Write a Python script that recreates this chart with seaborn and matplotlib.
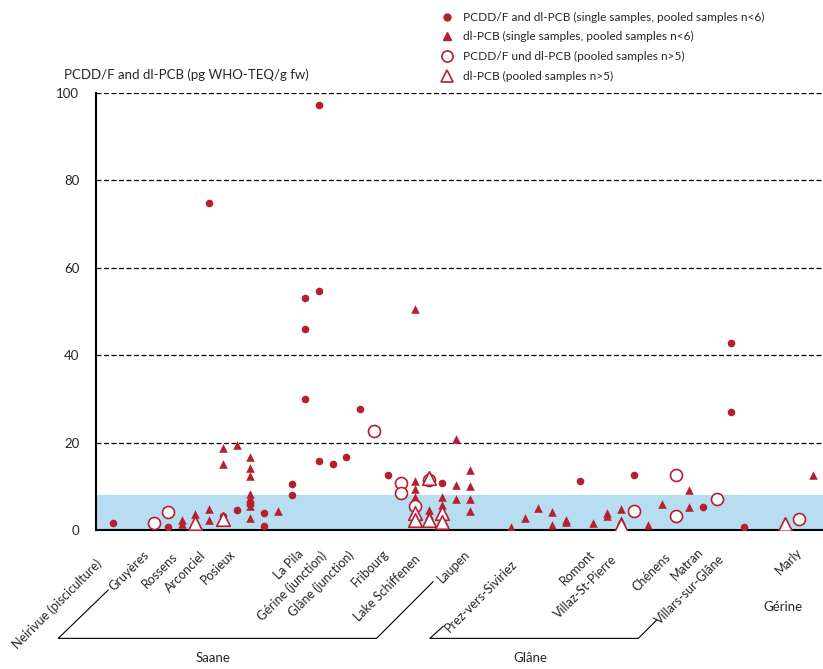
import numpy as np
import pandas as pd
import seaborn as sns
import matplotlib.pyplot as plt
from matplotlib.lines import Line2D
import matplotlib.transforms as mtransforms

# slot positions along the rivers and measured values (pg WHO-TEQ/g fw)
fc_slot = [1, 5, 8, 9, 10, 11, 12, 12, 14, 14, 15, 15, 15, 16, 16, 16, 17, 18, 19, 21, 25, 35, 39, 44, 46, 46, 47]
fc_val = [1.7, 0.8, 74.8, 3.2, 4.6, 6.0, 3.8, 0.9, 10.5, 8.0, 53.2, 46.0, 29.9, 97.3, 54.7, 15.9, 15.0, 16.8,
          27.7, 12.7, 10.7, 11.3, 12.7, 5.3, 42.9, 27.0, 0.8]

ft_slot = [6, 6, 7, 8, 8, 9, 9, 10, 11, 11, 11, 11, 11, 11, 11, 11, 13,
           23, 23, 23, 23, 23, 23, 24, 24, 24, 24, 25, 25, 26, 26, 26, 27, 27, 27, 27,
           30, 31, 32, 33, 33, 34, 34, 36, 37, 37, 38, 38, 40, 41, 43, 43, 52]
ft_val = [2.4, 1.4, 3.6, 4.7, 2.3, 18.7, 15.0, 19.4, 16.6, 14.3, 12.4, 8.3, 7.4, 6.4, 5.5, 2.7, 4.4,
          50.5, 11.1, 9.3, 7.6, 4.6, 1.6, 12.4, 4.6, 3.5, 1.8, 7.6, 5.7, 20.8, 10.3, 7.0, 13.7, 10.1, 7.1, 4.4,
          0.7, 2.8, 5.0, 4.2, 1.1, 2.3, 1.8, 1.7, 4.0, 3.2, 4.7, 2.3, 1.1, 5.9, 9.1, 5.2, 12.5]

oc_slot = [4, 5, 20, 22, 22, 23, 24, 39, 42, 42, 45, 51]
oc_val = [1.5, 4.2, 22.7, 10.8, 8.5, 5.5, 11.5, 4.3, 12.7, 3.2, 7.1, 2.6]

ot_slot = [7, 9, 23, 23, 24, 24, 25, 25, 38, 50]
ot_val = [1.5, 2.5, 3.8, 2.4, 12.0, 2.3, 4.0, 1.9, 1.1, 1.4]

sites = ["Neirivue (pisciculture)", "Gruyères", "Rossens", "Arconciel", "Posieux", "La Pila",
         "Gérine (junction)", "Glâne (junction)", "Fribourg", "Lake Schiffenen", "Laupen",
         "Prez-vers-Siviriez", "Romont", "Villaz-St-Pierre", "Chénens", "Matran",
         "Villars-sur-Glâne", "Marly"]
site_x = [0.04, 3.45, 5.51, 7.62, 9.74, 14.74, 16.44, 18.39, 20.94, 23.22, 26.86,
          30.29, 35.95, 37.58, 41.51, 43.9, 45.43, 51.1]
site_y = [-0.073, -0.053, -0.057, -0.053, -0.050, -0.050, -0.053, -0.053, -0.050, -0.062, -0.050,
          -0.073, -0.050, -0.062, -0.057, -0.046, -0.062, -0.046]

legend_labels = ["PCDD/F and dl-PCB (single samples, pooled samples n<6)",
                 "dl-PCB (single samples, pooled samples n<6)",
                 "PCDD/F und dl-PCB (pooled samples n>5)",
                 "dl-PCB (pooled samples n>5)"]

red = "#b51f2e"
band = "#b8dcf0"

sns.set_style("white")
plt.rcParams['font.family'] = ['Lato', 'DejaVu Sans']
fs = 9

fig = plt.figure(figsize=(8.23, 6.69), dpi=100)
ax = fig.add_axes([96 / 823, 139 / 669, 727 / 823, 437 / 669])

ax.axhspan(0, 8, color=band, zorder=0, lw=0)
for yv in [20, 40, 60, 80, 100]:
    ax.axhline(yv, color="black", ls=(0, (4, 2)), lw=0.9, zorder=1)

fc = pd.DataFrame({"slot": fc_slot, "val": fc_val})
ft = pd.DataFrame({"slot": ft_slot, "val": ft_val})
oc = pd.DataFrame({"slot": oc_slot, "val": oc_val})
ot = pd.DataFrame({"slot": ot_slot, "val": ot_val})

sns.scatterplot(data=fc, x="slot", y="val", ax=ax, marker="o", s=30, color=red, linewidth=0, zorder=3)
sns.scatterplot(data=ft, x="slot", y="val", ax=ax, marker="^", s=38, color=red, linewidth=0, zorder=3)
sns.scatterplot(data=oc, x="slot", y="val", ax=ax, marker="o", s=75, facecolor="white",
                edgecolor=red, linewidth=1.2, zorder=4)
sns.scatterplot(data=ot, x="slot", y="val", ax=ax, marker="^", s=95, facecolor="white",
                edgecolor=red, linewidth=1.2, zorder=5)

ax.set_xlim(-0.25, 52.74)
ax.set_ylim(0, 100)
ax.set_xticks([])
ax.set_yticks([0, 20, 40, 60, 80, 100])
ax.tick_params(axis="y", length=0, pad=12, labelsize=fs + 0.5)
ax.set_xlabel("")
ax.set_ylabel("")
for s in ["top", "right"]:
    ax.spines[s].set_visible(False)
ax.spines["left"].set_color("black")
ax.spines["left"].set_linewidth(1.5)
ax.spines["bottom"].set_color("black")
ax.spines["bottom"].set_linewidth(1.5)

trans = mtransforms.blended_transform_factory(ax.transData, ax.transAxes)
for name, xs, ys in zip(sites, site_x, site_y):
    ax.text(xs, ys, name, transform=trans, rotation=45, ha="right", va="center",
            rotation_mode="anchor", fontsize=fs, clip_on=False)

# river brackets
ax.plot([0.65, -3.0, 20.2, 24.33], [-0.137, -0.248, -0.248, -0.118], transform=trans,
        color="black", lw=0.8, clip_on=False)
ax.plot([25.07, 24.09, 39.28, 40.62], [-0.220, -0.248, -0.248, -0.206], transform=trans,
        color="black", lw=0.8, clip_on=False)
ax.text(8.28, -0.293, "Saane", transform=trans, ha="center", va="center", fontsize=fs + 0.5)
ax.text(31.38, -0.293, "Glâne", transform=trans, ha="center", va="center", fontsize=fs + 0.5)
ax.text(49.82, -0.176, "Gérine", transform=trans, ha="center", va="center", fontsize=fs + 0.5)

fig.text(64 / 823, 1 - 75 / 669, "PCDD/F and dl-PCB (pg WHO-TEQ/g fw)", ha="left", va="center",
         fontsize=fs + 0.5)

handles = [
    Line2D([], [], ls="", marker="o", ms=5, color=red, mec=red),
    Line2D([], [], ls="", marker="^", ms=6, color=red, mec=red),
    Line2D([], [], ls="", marker="o", ms=8, mfc="white", mec=red, mew=1.2),
    Line2D([], [], ls="", marker="^", ms=9, mfc="white", mec=red, mew=1.2),
]
fig.legend(handles, legend_labels, loc="upper left", bbox_to_anchor=(436 / 823, 1 - 7 / 669),
           frameon=False, fontsize=8.6, handlelength=1.0, handletextpad=0.9, labelspacing=0.72,
           borderaxespad=0)

fig.savefig("out.png", dpi=100)
